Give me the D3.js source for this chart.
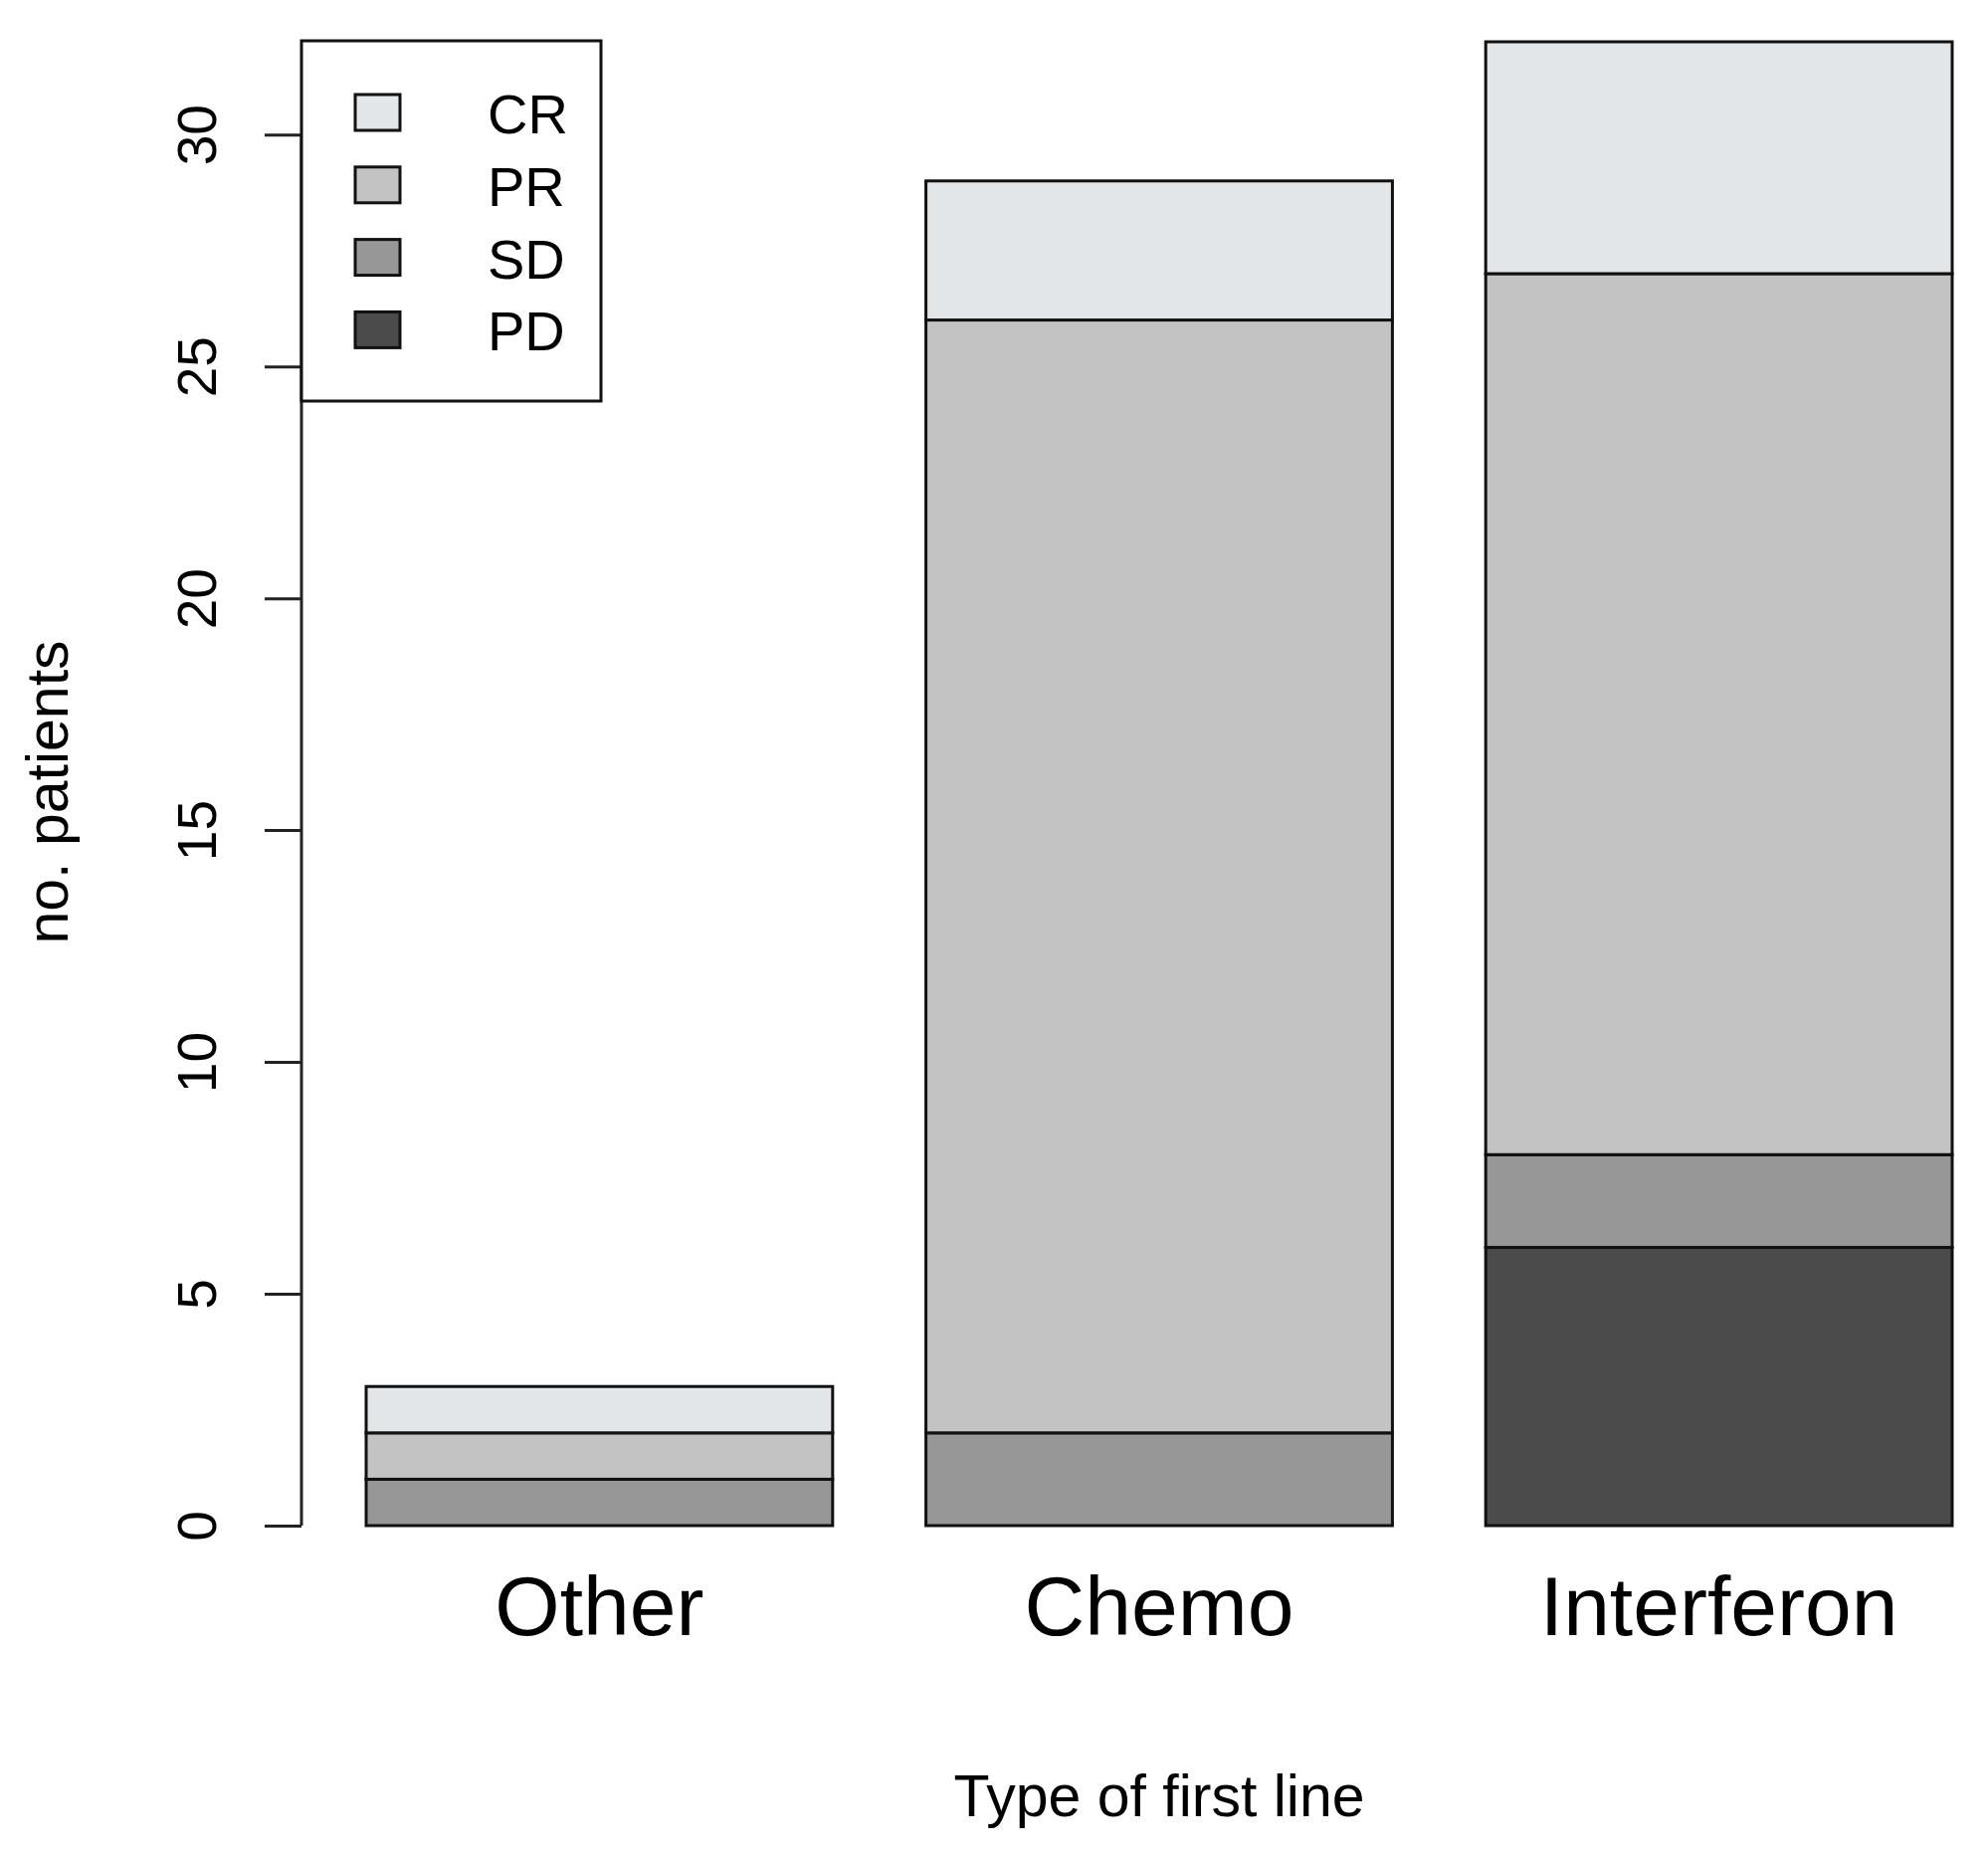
<!DOCTYPE html>
<html>
<head>
<meta charset="utf-8">
<script src="https://cdn.jsdelivr.net/npm/d3@7"></script>
<style>
  html, body { margin: 0; padding: 0; background: #fff; }
  svg text { font-family: "Liberation Sans", Arial, Helvetica, sans-serif; fill: #000; }
</style>
</head>
<body>
<svg id="chart" width="1998" height="1866"></svg>
<script>
// ---- data ----
const categories = ["Other", "Chemo", "Interferon"];
const seriesKeys = ["PD", "SD", "PR", "CR"];          // stacked bottom -> top
const PD = [0, 0, 6];
const SD = [1, 2, 2];
const PR = [1, 24, 19];
const CR = [1, 3, 5];
const legendKeys = ["CR", "PR", "SD", "PD"];
const yTicks = [0, 5, 10, 15, 20, 25, 30];
const xTitle = "Type of first line";
const yTitle = "no. patients";

// ---- styles ----
const colors = { CR: "#E3E6E8", PR: "#C3C3C3", SD: "#979797", PD: "#4B4B4B" };

const rows = categories.map((c, i) => ({ cat: c, PD: PD[i], SD: SD[i], PR: PR[i], CR: CR[i] }));

const svg = d3.select("#chart");

const x = d3.scaleBand().domain(categories).range([368, 1962]).paddingInner(1 / 6).paddingOuter(0);
const y = d3.scaleLinear().domain([0, 32]).range([1533, 42]);

const stack = d3.stack().keys(seriesKeys)(rows);

// bars
const layers = svg.append("g").selectAll("g").data(stack).join("g")
  .attr("fill", d => colors[d.key]);
layers.selectAll("rect")
  .data(d => d.filter(s => s[1] - s[0] > 0))
  .join("rect")
  .attr("x", d => x(d.data.cat))
  .attr("width", x.bandwidth())
  .attr("y", d => y(d[1]))
  .attr("height", d => y(d[0]) - y(d[1]))
  .attr("stroke", "#111")
  .attr("stroke-width", 3);

// y axis
const axisX = 303;
const yAxis = svg.append("g")
  .attr("transform", `translate(${axisX},0)`)
  .call(d3.axisLeft(y).tickValues(yTicks).tickSize(37).tickPadding(0).tickSizeOuter(0));
yAxis.select(".domain").remove();
yAxis.append("line")
  .attr("x1", 0).attr("x2", 0)
  .attr("y1", y(0)).attr("y2", y(30))
  .attr("stroke", "#222").attr("stroke-width", 3);
yAxis.selectAll(".tick line").attr("stroke", "#222").attr("stroke-width", 3);
yAxis.selectAll(".tick text")
  .attr("transform", "rotate(-90)")
  .attr("x", 0)
  .attr("y", -86)
  .attr("dy", 0)
  .attr("text-anchor", "middle")
  .style("font-family", '"Liberation Sans", Arial, Helvetica, sans-serif')
  .style("font-size", "55px")
  .attr("fill", "#000");

// category labels
svg.append("g").selectAll("text").data(categories).join("text")
  .attr("x", d => x(d) + x.bandwidth() / 2)
  .attr("y", 1643)
  .attr("text-anchor", "middle")
  .style("font-size", "84px")
  .text(d => d);

// axis titles
svg.append("text")
  .attr("x", (x.range()[0] + x.range()[1]) / 2)
  .attr("y", 1825)
  .attr("text-anchor", "middle")
  .style("font-size", "59px")
  .text(xTitle);

svg.append("text")
  .attr("transform", `translate(68,796) rotate(-90)`)
  .attr("text-anchor", "middle")
  .style("font-size", "59px")
  .text(yTitle);

// legend
const lg = svg.append("g");
lg.append("rect")
  .attr("x", 303).attr("y", 41)
  .attr("width", 301).attr("height", 362)
  .attr("fill", "#fff")
  .attr("stroke", "#111").attr("stroke-width", 3);
const items = lg.selectAll("g.item").data(legendKeys).join("g")
  .attr("class", "item")
  .attr("transform", (d, i) => `translate(0,${113 + i * 72.8})`);
items.append("rect")
  .attr("x", 357).attr("y", -18)
  .attr("width", 45).attr("height", 36)
  .attr("fill", d => colors[d])
  .attr("stroke", "#111").attr("stroke-width", 3);
items.append("text")
  .attr("x", 490).attr("y", 21)
  .style("font-size", "56px")
  .text(d => d);
</script>
</body>
</html>
